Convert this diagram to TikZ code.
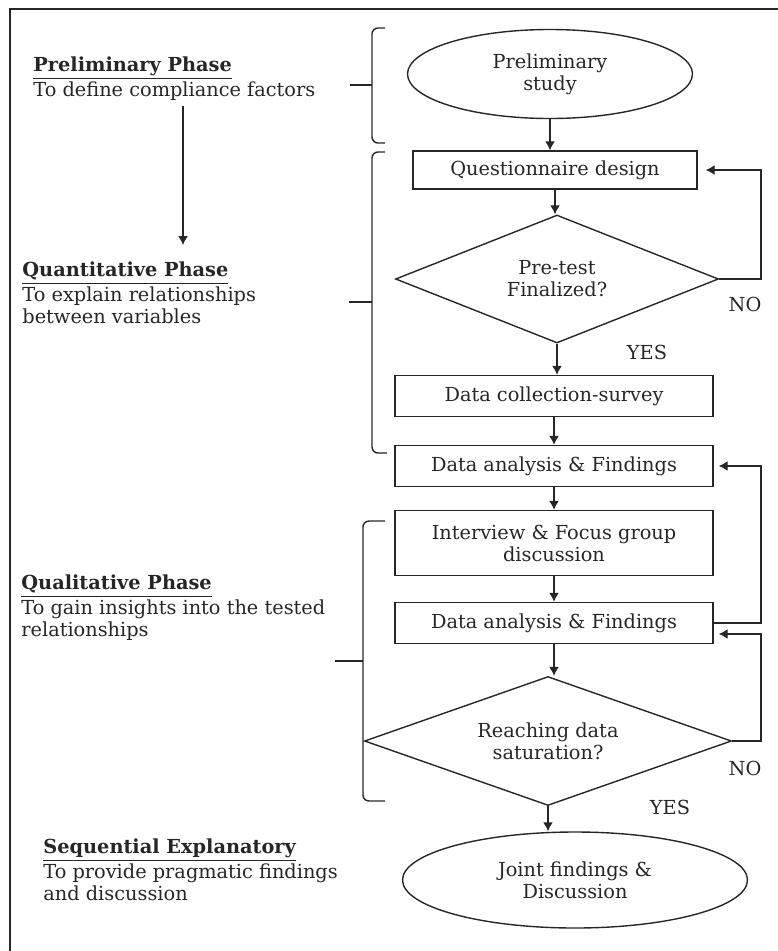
\documentclass[tikz,border=0pt]{standalone}
\usepackage{fontspec}
\setmainfont{DejaVu Serif}
\usetikzlibrary{arrows.meta,shapes.geometric,calc}

\begin{document}
\begin{tikzpicture}[x=0.5bp, y=-0.5bp,
    every node/.style={font=\fontsize{9.7}{11}\selectfont, text=black!85},
    flowline/.style={draw=black!85, line width=0.7pt},
    arrowline/.style={flowline, -{Latex[length=4.5bp,width=5bp]}},
    procbox/.style={draw=black!85, line width=0.7pt, rectangle, minimum width=159bp, minimum height=20.5bp, inner sep=1bp, align=center},
    termnode/.style={draw=black!85, line width=0.7pt, ellipse, inner sep=0pt, align=center},
    decnode/.style={draw=black!85, line width=0.7pt, diamond, aspect=2.8, inner sep=0pt, align=center},
    phasetxt/.style={anchor=base west, align=left, inner sep=0pt},
    bracket/.style={flowline, rounded corners=3bp}]
    \useasboundingbox (0,0) rectangle (778,951);
    % Frame
    \draw[flowline] (778,9) -- (10,9) -- (10,951);

    % Flow
    \node[termnode, minimum width=142.5bp, minimum height=44.5bp] (prelim) at (550,74) {Preliminary\\study};
    \node[procbox, minimum width=142bp, minimum height=19bp] (qdesign) at (555,170) {Questionnaire design};
    \node[decnode, minimum width=161.5bp, minimum height=64bp] (pretest) at (557,279) {Pre-test\\Finalized?};
    \node[procbox] (collect) at (554,396) {Data collection-survey};
    \node[procbox] (analysisA) at (554,466) {Data analysis \& Findings};
    \node[procbox, minimum height=32.5bp] (interview) at (554,543) {Interview \& Focus group\\discussion};
    \node[procbox] (analysisB) at (554,623) {Data analysis \& Findings};
    \node[decnode, minimum width=183.5bp, minimum height=64.5bp] (saturation) at (548,741) {Reaching data\\saturation?};
    \node[termnode, minimum width=172.5bp, minimum height=48bp] (joint) at (575,880) {Joint findings \&\\Discussion};

    \node (noA) at (745,304) {NO};
    \node (yesA) at (647,352) {YES};
    \node (noB) at (745,768) {NO};
    \node (yesB) at (670,807) {YES};

    \draw[arrowline] (prelim.south) -- (prelim.south |- qdesign.north);
    \draw[arrowline] (qdesign.south) -- (qdesign.south |- pretest.north);
    \draw[arrowline] (pretest.south) -- (pretest.south |- collect.north);
    \draw[arrowline] (collect) -- (analysisA);
    \draw[arrowline] (analysisA) -- (interview);
    \draw[arrowline] (interview) -- (analysisB);
    \draw[arrowline] (analysisB.south) -- (analysisB.south |- saturation.north);
    \draw[arrowline] (saturation.south) -- (saturation.south |- joint.north);

    % Feedback loops
    \coordinate (loopx) at (761,0);
    \draw[arrowline, shorten >=4bp] (pretest.east) -- (pretest.east -| loopx) |- (qdesign.east);
    \draw[arrowline, shorten >=2.5bp] (analysisB.east) -- (analysisB.east -| loopx) |- (analysisA.east);
    \draw[arrowline, shorten >=2.5bp] (saturation.east) -- (saturation.east -| loopx) |- ($(analysisB.east)+(0,11)$);

    % Phase brackets
    \draw[bracket] (385,28) -- (372,28) -- (372,143) -- (385,143);
    \draw[flowline] (350,85) -- (372,85);
    \draw[bracket] (385,152) -- (372,152) -- (372,453) -- (387,453);
    \draw[flowline] (349,302) -- (372,302);
    \draw[bracket] (385,521) -- (363,521) -- (363,801) -- (385,801);
    \draw[flowline] (335,661) -- (363,661);

    % Phase texts
    \node[phasetxt] (prelimtxt) at (33,96) {\underline{\textbf{Preliminary Phase}}\\To define compliance factors};
    \node[phasetxt] (quanttxt) at (22,323) {\underline{\textbf{Quantitative Phase}}\\To explain relationships\\between variables};
    \node[phasetxt] (qualtxt) at (21,636) {\underline{\textbf{Qualitative Phase}}\\To gain insights into the tested\\relationships};
    \node[phasetxt] (seqtxt) at (43,900) {\underline{\textbf{Sequential Explanatory}}\\To provide pragmatic findings\\and discussion};
    \coordinate (phasetop) at (183,106);
    \coordinate (phasebot) at (183,245);
    \draw[arrowline] (phasetop) -- (phasebot);
\end{tikzpicture}
\end{document}
